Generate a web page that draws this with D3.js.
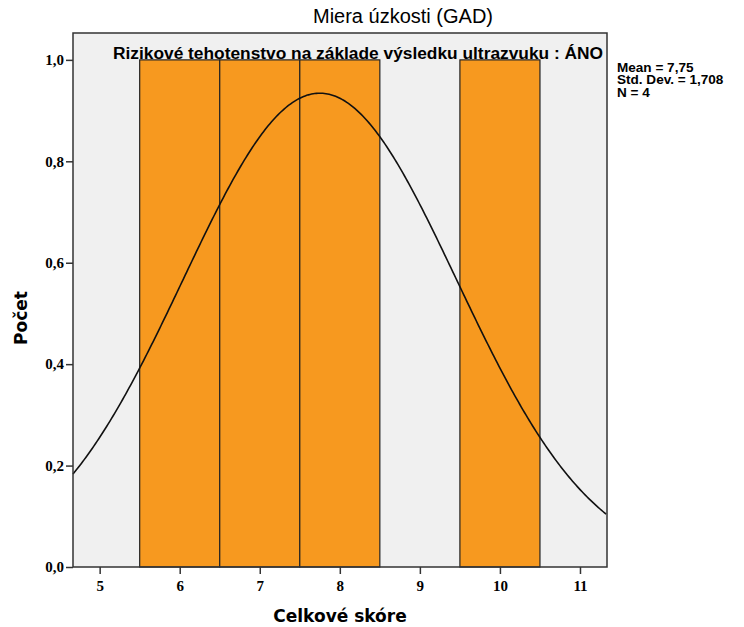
<!DOCTYPE html>
<html>
<head>
<meta charset="utf-8">
<script src="https://cdn.jsdelivr.net/npm/d3@7"></script>
<style>
  body { margin: 0; background: #fff; }
  text { fill: #000; }
</style>
</head>
<body>
<div id="chart"></div>
<script>
// histogram bins (lower edge, upper edge, count)
var binStarts = [5.5, 6.5, 7.5, 9.5];
var binEnds = [6.5, 7.5, 8.5, 10.5];
var counts = [1, 1, 1, 1];
var xTicks = [5, 6, 7, 8, 9, 10, 11];
var yTicks = [0, 0.2, 0.4, 0.6, 0.8, 1.0];
var stats = ["Mean = 7,75", "Std. Dev. = 1,708", "N = 4"];
var mean = [7.75];
var sd = [1.708];
var n = [4];

var width = 744,
    height = 627,
    margin = {top: 33, right: 137, bottom: 60, left: 73};

var svg = d3.select("#chart")
  .append("svg")
  .attr("width", width)
  .attr("height", height);

var x = d3.scaleLinear().domain([4.667, 11.3375]).range([margin.left, width - margin.right]);
var y = d3.scaleLinear().domain([0, 1.053]).range([height - margin.bottom, margin.top]);

// plot background
svg.append("rect")
  .attr("x", margin.left)
  .attr("y", margin.top)
  .attr("width", width - margin.left - margin.right)
  .attr("height", height - margin.top - margin.bottom)
  .attr("fill", "#f0f0f0");

// bars
svg.selectAll(".bar")
  .data(counts)
  .enter().append("rect")
  .attr("class", "bar")
  .attr("x", (d, i) => x(binStarts[i]))
  .attr("y", d => y(d))
  .attr("width", (d, i) => x(binEnds[i]) - x(binStarts[i]))
  .attr("height", d => y(0) - y(d))
  .attr("fill", "#f7991f")
  .attr("stroke", "#222")
  .attr("stroke-width", 1.2);

// normal curve from mean / sd / N (bin width 1)
var curveX = d3.range(x.domain()[0], x.domain()[1] + 0.001, 0.02);
var pdf = v => n[0] * 1 / (sd[0] * Math.sqrt(2 * Math.PI)) * Math.exp(-0.5 * Math.pow((v - mean[0]) / sd[0], 2));
svg.append("path")
  .datum(curveX)
  .attr("fill", "none")
  .attr("stroke", "#111")
  .attr("stroke-width", 1.6)
  .attr("d", d3.line().x(d => x(d)).y(d => y(pdf(d))));

// frame
svg.append("rect")
  .attr("x", margin.left)
  .attr("y", margin.top)
  .attr("width", width - margin.left - margin.right)
  .attr("height", height - margin.top - margin.bottom)
  .attr("fill", "none")
  .attr("stroke", "#333")
  .attr("stroke-width", 1.5);

// axes
var xAxis = d3.axisBottom(x).tickValues(xTicks).tickSize(7).tickSizeOuter(0).tickPadding(6)
  .tickFormat(d3.format("d"));
var yAxis = d3.axisLeft(y).tickValues(yTicks).tickSize(7).tickSizeOuter(0).tickPadding(2)
  .tickFormat(d => d3.format(".1f")(d).replace(".", ","));

var gx = svg.append("g")
  .attr("transform", `translate(0,${height - margin.bottom})`)
  .call(xAxis);
var gy = svg.append("g")
  .attr("transform", `translate(${margin.left},0)`)
  .call(yAxis);

[gx, gy].forEach(g => {
  g.select(".domain").remove();
  g.selectAll(".tick line").attr("stroke", "#333").attr("stroke-width", 1.5);
  g.selectAll(".tick text")
    .style("font-family", "'Liberation Serif', serif")
    .style("font-weight", "bold")
    .style("font-size", "15px")
    .attr("fill", "#000");
});

// title and labels
svg.append("text")
  .attr("x", 403)
  .attr("y", 23)
  .attr("text-anchor", "middle")
  .style("font-family", "'Liberation Sans', Arial, sans-serif")
  .style("font-size", "20px")
  .text("Miera úzkosti (GAD)");

svg.append("text")
  .attr("x", 113)
  .attr("y", 59)
  .attr("textLength", 490)
  .attr("lengthAdjust", "spacingAndGlyphs")
  .style("font-family", "'Liberation Sans', Arial, sans-serif")
  .style("font-size", "16px")
  .style("font-weight", "bold")
  .text("Rizikové tehotenstvo na základe výsledku ultrazvuku : ÁNO");

svg.append("text")
  .attr("x", (margin.left + width - margin.right) / 2)
  .attr("y", 622)
  .attr("text-anchor", "middle")
  .style("font-family", "'DejaVu Sans', sans-serif")
  .style("font-size", "17px")
  .style("font-weight", "bold")
  .text("Celkové skóre");

svg.append("text")
  .attr("transform", "translate(27,318) rotate(-90)")
  .attr("text-anchor", "middle")
  .style("font-family", "'DejaVu Sans', sans-serif")
  .style("font-size", "17px")
  .style("font-weight", "bold")
  .text("Počet");

// stats legend (slightly stretched to match the wide bold face)
var legend = svg.append("g")
  .attr("transform", "translate(617,0) scale(1.13,1)");
legend.selectAll(".stat")
  .data(stats)
  .enter().append("text")
  .attr("class", "stat")
  .attr("x", 0)
  .attr("y", (d, i) => 72 + i * 12.5)
  .style("font-family", "'Liberation Sans', Arial, sans-serif")
  .style("font-size", "12px")
  .style("font-weight", "bold")
  .text(d => d);
</script>
</body>
</html>
